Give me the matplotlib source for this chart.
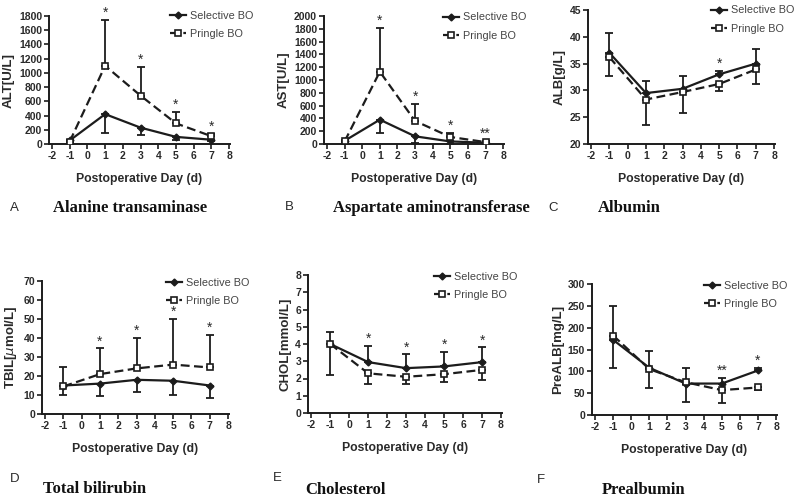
import numpy as np
import matplotlib
matplotlib.use('Agg')
import matplotlib.pyplot as plt

plt.rcParams['font.family'] = ['Liberation Sans', 'DejaVu Sans']
plt.rcParams['axes.unicode_minus'] = False

days = [-1, 1, 3, 5, 7]

# A - ALT
alt_sel = [50, 420, 230, 100, 60]
alt_sel_sd = [20, 260, 110, 50, 20]
alt_pri = [35, 1100, 680, 290, 110]
alt_pri_sd = [20, 650, 400, 160, 30]
alt_stars = ['', '*', '*', '*', '*']

# B - AST
ast_sel = [50, 380, 120, 40, 20]
ast_sel_sd = [20, 210, 100, 40, 10]
ast_pri = [40, 1130, 360, 110, 30]
ast_pri_sd = [20, 680, 270, 60, 20]
ast_stars = ['', '*', '*', '*', '**']

# C - ALB
alb_sel = [37.0, 29.5, 30.3, 33.0, 35.0]
alb_sel_sd = [3.8, 2.2, 2.3, 0.7, 2.7]
alb_pri = [36.2, 28.3, 29.7, 31.2, 33.9]
alb_pri_sd = [3.5, 4.7, 3.9, 1.4, 2.7]
alb_stars = ['', '', '', '*', '']

# D - TBIL
tbil_sel = [15, 16, 18, 17.5, 15]
tbil_sel_sd = [5, 6.5, 6.5, 7.5, 6.5]
tbil_pri = [14.5, 21, 24, 26, 24.5]
tbil_pri_sd = [10.5, 13.5, 16, 24, 17]
tbil_stars = ['', '*', '*', '*', '*']

# E - CHOL
chol_sel = [4.0, 2.95, 2.6, 2.7, 2.95]
chol_sel_sd = [0.7, 0.95, 0.8, 0.85, 0.85]
chol_pri = [4.0, 2.3, 2.1, 2.25, 2.5]
chol_pri_sd = [1.8, 0.6, 0.4, 0.45, 0.6]
chol_stars = ['', '*', '*', '*', '*']

# F - PreALB
palb_sel = [172, 108, 72, 72, 102]
palb_sel_sd = [78, 38, 36, 13, 5]
palb_pri = [182, 105, 75, 57, 63]
palb_pri_sd = [74, 43, 45, 30, 5]
palb_stars = ['', '', '', '**', '*']

panels = [
    # rect(px), ylabel, yticks, data..., sel error dir, letter, title, letter pos, title pos, legend anchor
    ([49, 16, 230, 144], 'ALT[U/L]', np.arange(0, 1801, 200), alt_sel, alt_sel_sd, alt_pri, alt_pri_sd, alt_stars, -1,
     'A', 'Alanine transaminase', (10, 208), (53, 208), (0.668, 0.93)),
    ([324, 16, 504, 144], 'AST[U/L]', np.arange(0, 2001, 200), ast_sel, ast_sel_sd, ast_pri, ast_pri_sd, ast_stars, -1,
     'B', 'Aspartate aminotransferase', (285, 207), (333, 208), (0.66, 0.918)),
    ([588, 10, 775, 144], 'ALB[g/L]', np.arange(20, 46, 5), alb_sel, alb_sel_sd, alb_pri, alb_pri_sd, alb_stars, 1,
     'C', 'Albumin', (548, 208), (598, 208), (0.658, 0.929)),
    ([42, 281, 229, 414], 'TBIL[$\\mu$mol/L]', np.arange(0, 71, 10), tbil_sel, tbil_sel_sd, tbil_pri, tbil_pri_sd, tbil_stars, -1,
     'D', 'Total bilirubin', (10, 479), (43, 489), (0.663, 0.917)),
    ([308, 275, 502, 413], 'CHOL[mmol/L]', np.arange(0, 9, 1), chol_sel, chol_sel_sd, chol_pri, chol_pri_sd, chol_stars, 1,
     'E', 'Cholesterol', (273, 478), (305, 490), (0.65, 0.92)),
    ([592, 284, 777, 415], 'PreALB[mg/L]', np.arange(0, 301, 50), palb_sel, palb_sel_sd, palb_pri, palb_pri_sd, palb_stars, 1,
     'F', 'Prealbumin', (537, 480), (602, 490), (0.605, 0.916)),
]

W, H = 800, 497
fig = plt.figure(figsize=(8, 4.97), dpi=100)
ink = '#1c1c1c'
txt = '#2a2a2a'

for (x0, y0, x1, y1), ylab, yt, sel, sel_sd, pri, pri_sd, stars, sdir, letter, title, lpos, tpos, leg in panels:
    ax = fig.add_axes([x0 / W, (H - y1) / H, (x1 - x0) / W, (y1 - y0) / H])
    sel = np.array(sel); pri = np.array(pri)
    sel_sd = np.array(sel_sd); pri_sd = np.array(pri_sd)
    z = np.zeros(len(days))
    if sdir > 0:
        sel_err = [z, sel_sd]; pri_err = [pri_sd, z]
        tops = np.maximum(sel + sel_sd, pri)
    else:
        sel_err = [sel_sd, z]; pri_err = [z, pri_sd]
        tops = np.maximum(pri + pri_sd, sel)
    ax.errorbar(days, sel, yerr=sel_err, fmt='none', ecolor=ink, capsize=3, capthick=1.3, elinewidth=1.3, zorder=2)
    ax.errorbar(days, pri, yerr=pri_err, fmt='none', ecolor=ink, capsize=3, capthick=1.3, elinewidth=1.3, zorder=2)
    ax.plot(days, sel, color=ink, lw=1.6, marker='D', ms=3.5, mfc=ink, mec=ink, label='Selective BO', zorder=3)
    ax.plot(days, pri, color=ink, lw=1.6, ls=(0, (4, 2)), marker='s', ms=5,
            mfc='white', mec=ink, mew=1.2, label='Pringle BO', zorder=3)
    rng = yt[-1] - yt[0]
    for d, t, s in zip(days, tops, stars):
        if s:
            ax.text(d, t, s, ha='center', va='bottom', fontsize=10, color=txt)
    ax.set_xlim(-2.17, 8.05)
    ax.set_ylim(yt[0], yt[-1])
    ax.set_xticks(np.arange(-2, 9, 1))
    ax.set_yticks(yt)
    for sp in ['top', 'right']:
        ax.spines[sp].set_visible(False)
    for sp in ['left', 'bottom']:
        ax.spines[sp].set_linewidth(1.4)
        ax.spines[sp].set_color(ink)
    ax.tick_params(direction='out', length=3.5, width=1.2, labelsize=7.5, colors=ink, pad=1.5)
    for lb in ax.get_xticklabels() + ax.get_yticklabels():
        lb.set_fontweight('bold')
        lb.set_color(txt)
    ax.set_ylabel(ylab, fontsize=9.5, fontweight='bold', color=txt, labelpad=3)
    ax.set_xlabel('Postoperative Day (d)', fontsize=8.8, fontweight='bold', color=txt, labelpad=9)
    lg = ax.legend(loc='center left', bbox_to_anchor=leg, frameon=False, fontsize=7.8,
                   handlelength=1.45, handletextpad=0.4, borderpad=0, borderaxespad=0, labelspacing=0.75)
    for t in lg.get_texts():
        t.set_color('#444444')
    fig.text(lpos[0] / W, 1 - lpos[1] / H, letter, fontsize=9.5, color=txt, ha='left', va='center')
    fig.text(tpos[0] / W, 1 - tpos[1] / H, title, fontsize=12, fontweight='bold', color='#111111',
             family=['Liberation Serif', 'DejaVu Serif'], ha='left', va='center')

fig.savefig('out.png', dpi=100)
